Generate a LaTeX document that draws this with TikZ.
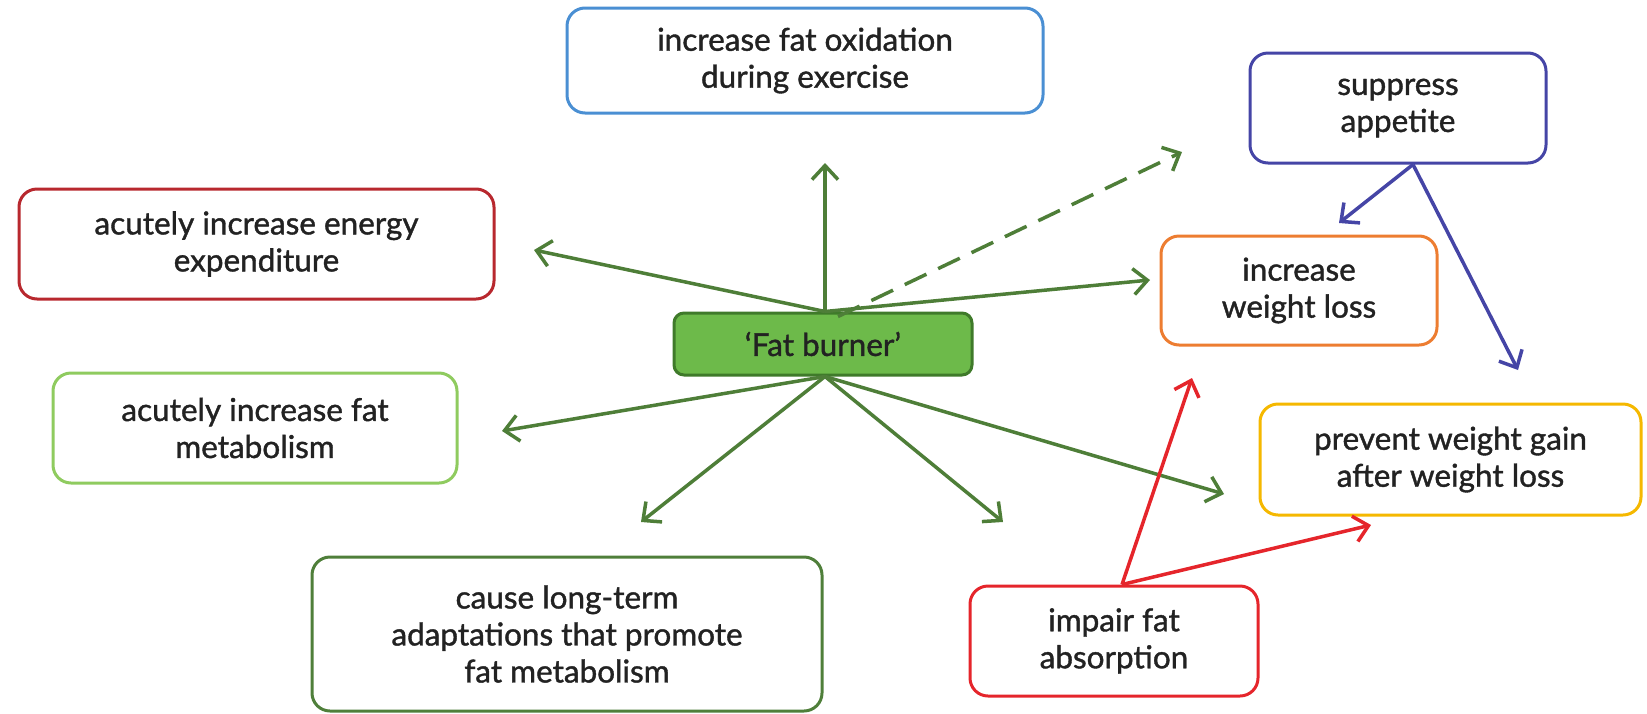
\documentclass[tikz,border=0pt]{standalone}
\usepackage{fontspec}
\setmainfont{Lato}[FakeBold=1.2]
\usetikzlibrary{arrows.meta}
\definecolor{arrgreen}{HTML}{4E7E38}
\definecolor{fbfill}{HTML}{6DBA4A}
\definecolor{fbdraw}{HTML}{3F7A2A}
\definecolor{cblue}{HTML}{4A8FD3}
\definecolor{cpurple}{HTML}{4545A6}
\definecolor{cdred}{HTML}{B8282E}
\definecolor{clgreen}{HTML}{8FCB5F}
\definecolor{corange}{HTML}{ED7D31}
\definecolor{cyellow}{HTML}{F5B800}
\definecolor{cdgreen}{HTML}{4F7F3A}
\definecolor{cred}{HTML}{E5252B}
\definecolor{ctext}{HTML}{222222}
\begin{document}
\begin{tikzpicture}[x=1pt,y=-1pt,
  box/.style={draw, line width=3pt, rounded corners=18pt, fill=white, align=center,
    text=ctext, font=\fontsize{31.5}{37}\selectfont, inner sep=0pt},
  arr/.style={line width=3.5pt, -{Straight Barb[length=14pt,width=26pt,line width=3.5pt]}},
  garr/.style={arr, draw=arrgreen},
]
\useasboundingbox (0,0) rectangle (1647,713);
\node[box, draw=cblue, minimum width=476pt, minimum height=105pt] (ox) at (805,60.5) {increase fat oxidation\\during exercise};
\node[box, draw=cpurple, minimum width=296pt, minimum height=110pt] (sup) at (1398,108) {suppress\\appetite};
\node[box, draw=cdred, minimum width=475pt, minimum height=110pt] (en) at (256.5,244) {acutely increase energy\\expenditure};
\node[box, draw=corange, minimum width=276pt, minimum height=109pt] (wl) at (1299,290.5) {increase\\weight loss};
\node[box, draw=fbdraw, fill=fbfill, rounded corners=10pt, minimum width=298pt, minimum height=62pt] (fb) at (823,344) {‘Fat burner’};
\node[box, draw=clgreen, minimum width=404pt, minimum height=110pt] (fm) at (255,428) {acutely increase fat\\metabolism};
\node[box, draw=cyellow, minimum width=381pt, minimum height=111pt] (pw) at (1450.5,459.5) {prevent weight gain\\after weight loss};
\node[box, draw=cdgreen, minimum width=510pt, minimum height=154pt] (lt) at (567,634) {cause long-term\\adaptations that promote\\fat metabolism};
\node[box, draw=cred, minimum width=288pt, minimum height=110pt] (im) at (1114,641) {impair fat\\absorption};

\coordinate (ftop) at ([xshift=2pt]fb.north);
\coordinate (fbot) at ([xshift=2pt]fb.south);
\coordinate (eox) at (825,163);
\coordinate (edash) at (1182,152);
\coordinate (een) at (534,250);
\coordinate (ewl) at (1150,280);
\coordinate (efm) at (502,431);
\coordinate (elt) at (641,522);
\coordinate (emid) at (1003,522);
\coordinate (epw) at (1224,494);
\coordinate (supb) at ([xshift=15pt]sup.south);
\coordinate (ewl2) at (1339,223);
\coordinate (epw2) at (1518,370);
\coordinate (imt) at ([xshift=8pt]im.north);
\coordinate (ewl3) at (1192,378);
\coordinate (epw3) at (1371,525);

\draw[garr] (ftop) -- (eox);
\draw[garr, dash pattern=on 24pt off 13pt] ([xshift=15pt,yshift=-5pt]fb.north) -- (edash);
\draw[garr] (ftop) -- (een);
\draw[garr] (ftop) -- (ewl);
\draw[garr] (fbot) -- (efm);
\draw[garr] (fbot) -- (elt);
\draw[garr] (fbot) -- (emid);
\draw[garr] (fbot) -- (epw);
\draw[arr, draw=cpurple] (supb) -- (ewl2);
\draw[arr, draw=cpurple] (supb) -- (epw2);
\draw[arr, draw=cred] (imt) -- (ewl3);
\draw[arr, draw=cred] (imt) -- (epw3);
\end{tikzpicture}
\end{document}
